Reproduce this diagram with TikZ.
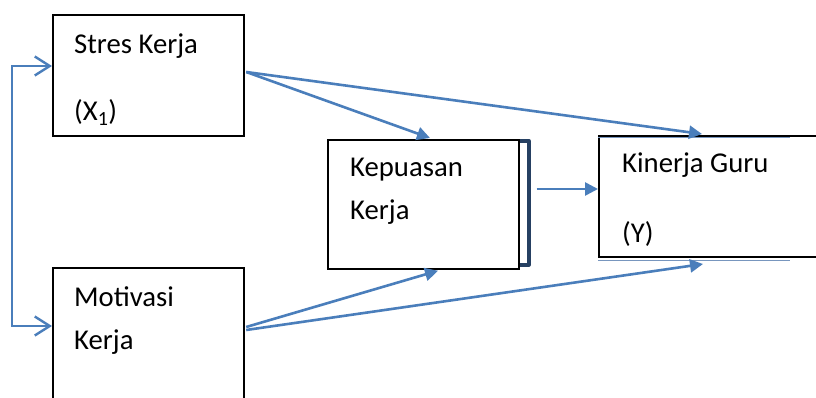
\documentclass[tikz,border=0pt]{standalone}
\usepackage{fontspec}
\setmainfont{Carlito}
\usetikzlibrary{arrows.meta,calc}
\definecolor{arrowblue}{RGB}{74,126,187}
\definecolor{darkblue}{RGB}{38,64,98}
\definecolor{shadowblue}{RGB}{120,150,190}
\tikzset{
  box/.style={draw=black, line width=2.2pt, fill=white, anchor=north west, inner sep=0pt},
  lbl/.style={anchor=base west, inner sep=0pt, font=\fontsize{28.7}{34}\selectfont},
  link/.style={draw=arrowblue, line width=2.6pt, -{Triangle[length=13pt,width=13pt]}},
  barb/.style={draw=arrowblue, line width=2.4pt, {Straight Barb[length=15pt,width=19pt]}-{Straight Barb[length=15pt,width=19pt]}},
}
\begin{document}
\begin{tikzpicture}[x=1pt,y=-1pt]
\clip (0,0) rectangle (816,398);
\fill[white] (0,0) rectangle (816,398);
% boxes
\node[box, minimum width=191pt, minimum height=121pt] (s) at (52,14) {};
\node[box, minimum width=191pt, minimum height=160pt] (m) at (52,267) {};
\node[box, line width=1.7pt, minimum width=191pt, minimum height=129pt] (k) at (327,139) {};
\node[box, line width=2pt, minimum width=240pt, minimum height=121pt] (g) at (598,135) {};
% shadows / bracket
\draw[darkblue, line width=4pt, line join=round] ($(k.north east)+(0,2)$) -- ++(9,0) -- ($(k.south east)+(9,-5)$) -- ++(-9,0);
\draw[shadowblue, line width=1.2pt] ($(g.north west)+(0,2.5)$) -- ++(192,0);
\draw[shadowblue, line width=1.2pt] ($(g.south west)+(0,2.5)$) -- ++(192,0);
% labels
\node[lbl] (t1) at (74,54) {Stres Kerja};
\node[lbl] (t2) at (74,121) {(X\textsubscript{1})};
\node[lbl] (t3) at (74,306) {Motivasi};
\node[lbl] (t4) at (74,349) {Kerja};
\node[lbl] (t5) at (350,177) {Kepuasan};
\node[lbl] (t6) at (350,219) {Kerja};
\node[lbl] (t7) at (622,173) {Kinerja Guru};
\node[lbl] (t8) at (622,242) {(Y)};
% connectors
\draw[barb] ($(s.north west)+(0,52)$) -- ++(-40,0) |- ($(m.north west)+(0,59)$);
\draw[link] ($(s.north east)+(1,58)$) -- ($(k.north west)+(103,-1)$);
\draw[link] ($(s.north east)+(1,58)$) -- ($(g.north west)+(104,-1)$);
\draw[link] ($(m.north east)+(1,60)$) -- ($(k.south west)+(111,1)$);
\draw[link] ($(m.north east)+(1,63)$) -- ($(g.south west)+(105,6)$);
\draw[link] ($(k.north east)+(17,50)$) -- (g.west |- {$(k.north east)+(17,50)$});
\end{tikzpicture}
\end{document}
